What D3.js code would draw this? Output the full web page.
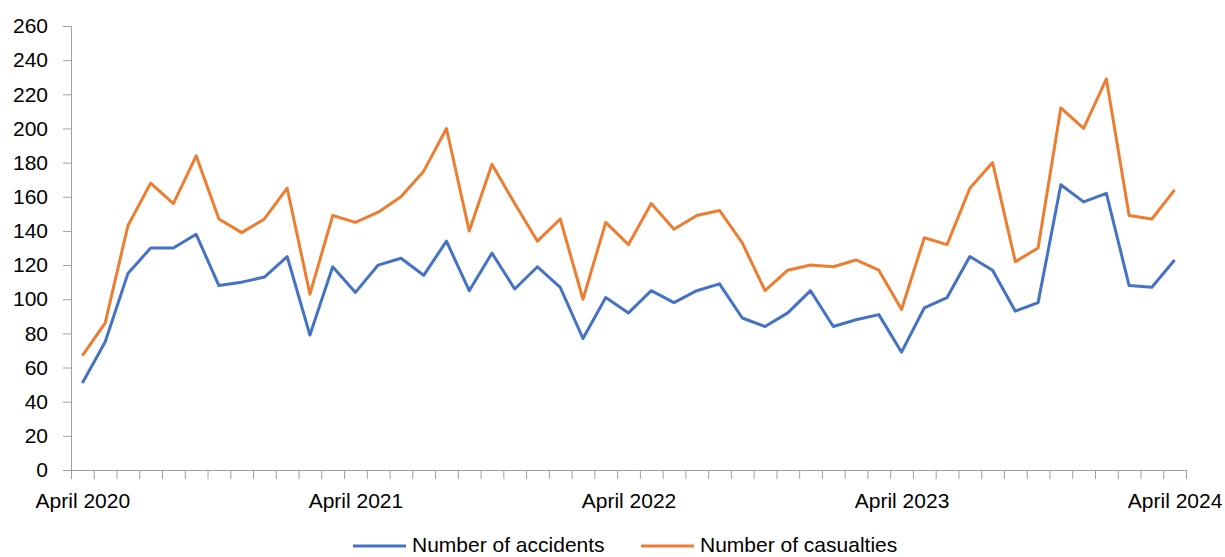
<!DOCTYPE html>
<html>
<head>
<meta charset="utf-8">
<script src="https://cdn.jsdelivr.net/npm/d3@7"></script>
<style>
  body { margin: 0; background: #fff; }
  text { font-family: "Liberation Sans", Arial, sans-serif; fill: #000; }
</style>
</head>
<body>
<svg id="chart" width="1225" height="557"></svg>
<script>
// Monthly values, April 2020 .. April 2024
const accidents = [
    51, 75, 115, 130, 130, 138, 108, 110, 113, 125, 79, 119,
    104, 120, 124, 114, 134, 105, 127, 106, 119, 107, 77, 101,
    92, 105, 98, 105, 109, 89, 84, 92, 105, 84, 88, 91,
    69, 95, 101, 125, 117, 93, 98, 167, 157, 162, 108, 107,
    123
];
const casualties = [
    67, 86, 143, 168, 156, 184, 147, 139, 147, 165, 103, 149,
    145, 151, 160, 175, 200, 140, 179, 156, 134, 147, 100, 145,
    132, 156, 141, 149, 152, 133, 105, 117, 120, 119, 123, 117,
    94, 136, 132, 165, 180, 122, 130, 212, 200, 229, 149, 147,
    164
];
// Labelled months (index into the series) and their texts
const labelIndex = [0, 12, 24, 36, 48];
const labelText = ['April 2020', 'April 2021', 'April 2022', 'April 2023', 'April 2024'];
const yTicks = d3.range(0, 261, 20);

const series = [
    { name: 'Number of accidents', values: accidents, color: '#4472C4' },
    { name: 'Number of casualties', values: casualties, color: '#ED7D31' }
];

/**
 * Layout.
 */
const plot = { left: 71, right: 1186, top: 26, bottom: 470 };
const axisColor = '#a0a0a0';
const n = accidents.length;

const svg = d3.select('#chart');

const xScale = d3.scaleLinear().domain([0, n]).range([plot.left, plot.right]),
    yScale = d3.scaleLinear().domain([0, 260]).range([plot.bottom, plot.top]);

const line = d3.line()
    .x((d, i) => xScale(i + 0.5))
    .y(d => yScale(d));

// y axis
const yAxis = svg.append('g')
    .attr('transform', 'translate(' + plot.left + ',0)')
    .call(d3.axisLeft(yScale).tickValues(yTicks).tickSize(8).tickPadding(15));
yAxis.selectAll('text').style('font-size', '21px');

// x axis: tick marks on category boundaries
const xAxis = svg.append('g')
    .attr('transform', 'translate(0,' + plot.bottom + ')')
    .call(d3.axisBottom(xScale).tickValues(d3.range(0, n + 1)).tickFormat('').tickSize(9));

// x labels on category centres
const xLabels = svg.append('g')
    .attr('transform', 'translate(0,' + plot.bottom + ')')
    .call(d3.axisBottom(xScale)
        .tickValues(labelIndex.map(i => i + 0.5))
        .tickFormat((d, i) => labelText[i])
        .tickSize(0).tickPadding(23));
xLabels.select('.domain').remove();
xLabels.selectAll('text').style('font-size', '21px');

svg.selectAll('.domain, .tick line').attr('stroke', axisColor);
svg.selectAll('.tick text').attr('fill', '#000');

// Lines
svg.append('g').selectAll('path')
    .data(series)
    .enter().append('path')
        .attr('fill', 'none')
        .attr('stroke', d => d.color)
        .attr('stroke-width', 3)
        .attr('stroke-linejoin', 'round')
        .attr('d', d => line(d.values));

// Legend
const legendPos = [353, 641];
const legend = svg.append('g').selectAll('g')
    .data(series)
    .enter().append('g')
        .attr('transform', (d, i) => 'translate(' + legendPos[i] + ',546)');
legend.append('line')
    .attr('x1', 0).attr('x2', 53)
    .attr('stroke', d => d.color)
    .attr('stroke-width', 3);
legend.append('text')
    .attr('x', 59)
    .attr('y', 6)
    .style('font-size', '21px')
    .text(d => d.name);
</script>
</body>
</html>
